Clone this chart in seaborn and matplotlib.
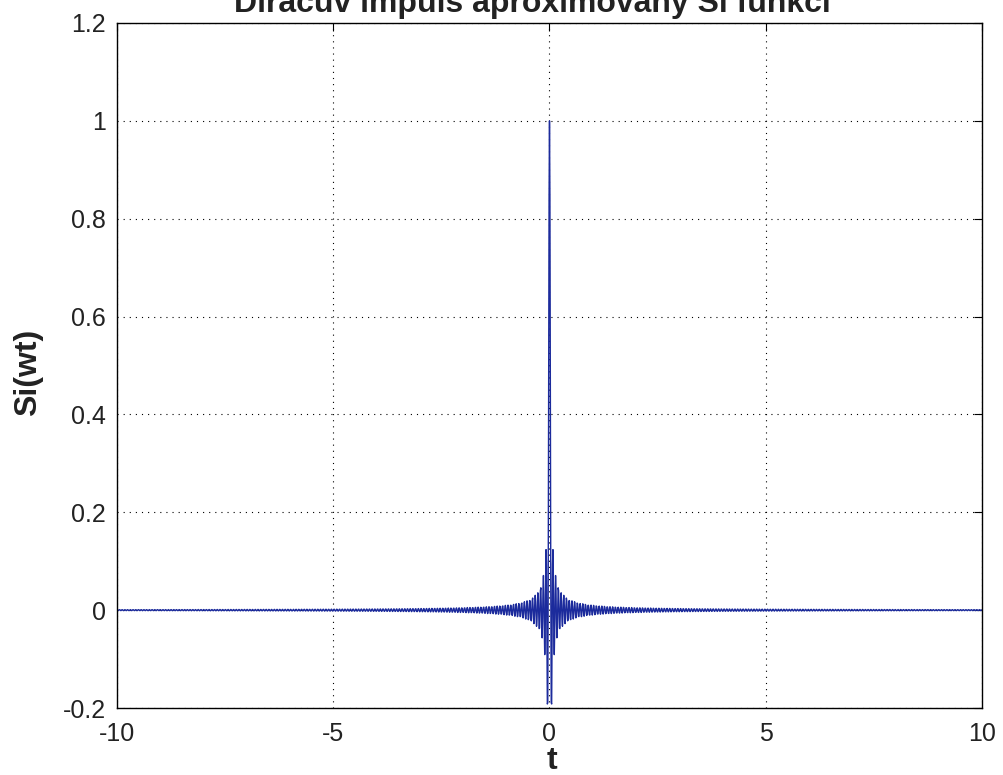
import numpy as np
import pandas as pd
import matplotlib
matplotlib.use("Agg")
import matplotlib.pyplot as plt
import seaborn as sns
from matplotlib.ticker import FuncFormatter

# Si(wt) = sin(wt)/(wt), sampled on t = -10:0.01:10 with w = 100
omega = 100.0
t_start, t_stop, t_step = -10.0, 10.0, 0.01
x_ticks = [-10, -5, 0, 5, 10]
y_ticks = [-0.2, 0, 0.2, 0.4, 0.6, 0.8, 1.0, 1.2]

title_text = "Diracův impuls aproximovaný Si funkcí"
x_label = "t"
y_label = "Si(wt)"

t = np.linspace(t_start, t_stop, int(round((t_stop - t_start) / t_step)) + 1)
si = np.sinc(omega * t / np.pi)
df = pd.DataFrame({"t": t, "si": si})

sns.set_theme(style="white")
plt.rcParams["font.family"] = ["Liberation Sans", "DejaVu Sans"]
plt.rcParams["axes.unicode_minus"] = False

fig = plt.figure(figsize=(10.04, 7.75), dpi=100)
ax = fig.add_axes([117 / 1004, 67 / 775, 865 / 1004, 685 / 775])

sns.lineplot(data=df, x="t", y="si", ax=ax, color="#1c2b9c", linewidth=1.0,
             estimator=None, sort=False)

ax.set_xlim(x_ticks[0], x_ticks[-1])
ax.set_ylim(y_ticks[0], y_ticks[-1])
ax.set_xticks(x_ticks)
ax.set_yticks(y_ticks)
ax.xaxis.set_major_formatter(FuncFormatter(lambda v, p: f"{v:g}"))
ax.yaxis.set_major_formatter(FuncFormatter(lambda v, p: f"{v:g}"))

ax.grid(True, color="black", linestyle=(0, (1, 4.5)), linewidth=0.8)
for s in ax.spines.values():
    s.set_color("black")
    s.set_linewidth(1.0)
ax.tick_params(direction="in", top=True, right=True, length=6, width=0.8,
               colors="black", labelsize=18, labelcolor="#222222")
ax.tick_params(axis="x", pad=10)
ax.tick_params(axis="y", pad=8)

ax.set_xlabel(x_label, fontsize=23, fontweight="bold", color="#222222")
ax.set_ylabel(y_label, fontsize=23, fontweight="bold", color="#222222")
ax.xaxis.set_label_coords(0.5025, -0.055)
ax.yaxis.set_label_coords(-0.086, 0.49)

fig.text(532 / 1004, 1 - 12 / 775, title_text, ha="center", va="baseline",
         fontsize=23, fontweight="bold", color="#222222")

fig.savefig("out.png", dpi=100, facecolor="white")
